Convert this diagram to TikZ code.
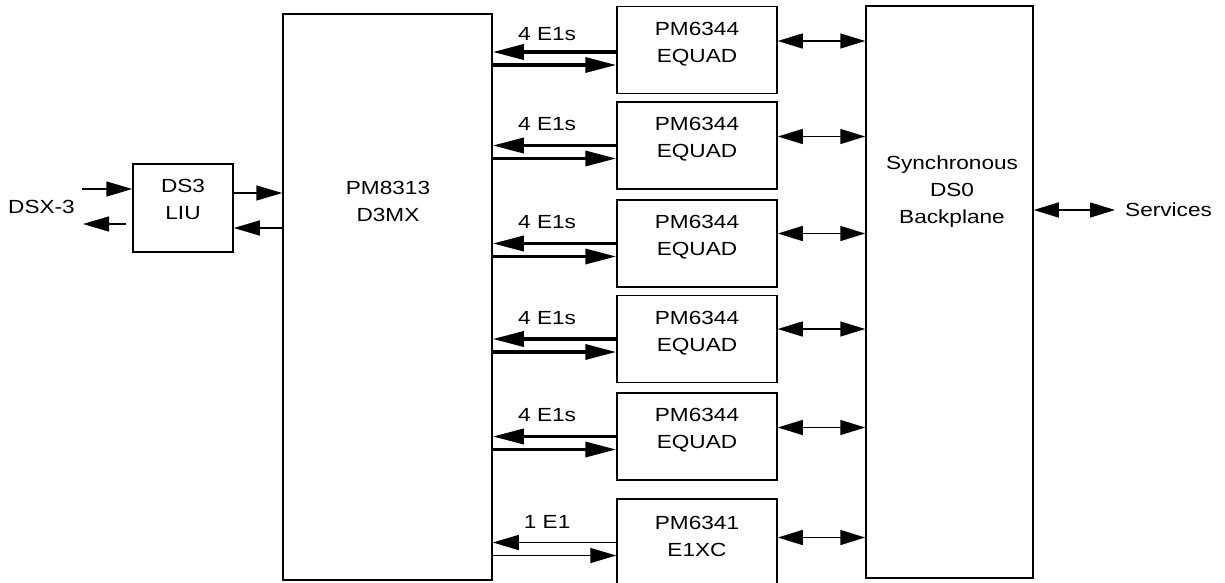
\documentclass[tikz,border=0pt]{standalone}
\usepackage{fontspec}
\setmainfont{Liberation Sans}[FakeStretch=1.19]
\usepackage{tikz}
\usetikzlibrary{arrows.meta,positioning}

\begin{document}
\begin{tikzpicture}[x=1pt, y=-1pt,
  every node/.style={font=\fontsize{19}{27}\selectfont},
  blk/.style={draw, line width=1.5pt, inner sep=0pt},
  txt/.style={align=center, inner sep=0pt},
  eq/.style={blk, minimum width=160pt, minimum height=87pt},
  thin/.style={-{Triangle[length=26pt, width=15pt]}, line width=1.5pt},
  fat/.style={-{Triangle[length=31pt, width=15pt]}, line width=3.5pt},
  both/.style={{Triangle[length=25pt, width=15pt]}-{Triangle[length=25pt, width=15pt]}, line width=1.5pt},
  lbl/.style={inner sep=0pt, pos=0.56, above=13pt}
]
\useasboundingbox (0,0) rectangle (1225,583);

% blocks
\node[blk, minimum width=100pt, minimum height=88pt] (liu) at (183,208) {};
\node[txt] (liut) at (183,199) {DS3\\LIU};
\node[blk, minimum width=209pt, minimum height=566pt] (d3mx) at (387.5,297) {};
\node[txt] (d3mxt) at (388,201) {PM8313\\D3MX};
\node[blk, minimum width=167pt, minimum height=572pt] (bp) at (949.5,292) {};
\node[txt] (bpt) at (952,192) {Synchronous\\DS0\\Backplane};

\node[eq] (eq1) at (697,50) {};
\node[eq] (eq2) at (697,145.5) {};
\node[eq] (eq3) at (697,243.5) {};
\node[eq] (eq4) at (697,339) {};
\node[eq] (eq5) at (697,436.5) {};
\node[eq] (e1xc) at (697,542.5) {};
\node[txt] (eq1t) at (697,44) {PM6344\\EQUAD};
\node[txt] (eq2t) at (697,139.5) {PM6344\\EQUAD};
\node[txt] (eq3t) at (697,237.5) {PM6344\\EQUAD};
\node[txt] (eq4t) at (697,333) {PM6344\\EQUAD};
\node[txt] (eq5t) at (697,430.5) {PM6344\\EQUAD};
\node[txt] (e1xct) at (697,536.5) {PM6341\\E1XC};

\node[txt] (dsx) at (41.5,207) {DSX-3};
\node[txt, anchor=west] (srv) at (1125,210) {Services};

% line side
\coordinate (dsxin) at (82,189);
\coordinate (dsxout) at (126,224);
\draw[thin] (dsxin) -- (dsxin -| liu.west);
\draw[thin] (dsxout) -- ++(-43,0);
\draw[thin] ([yshift=15pt]liu.east) -- ([yshift=15pt]liu.east -| d3mx.west);
\draw[thin] ([yshift=-20pt]liu.east -| d3mx.west) -- ([yshift=-20pt]liu.east);

% tributaries
\coordinate (l1) at ([yshift=-2pt]eq1.west);
\coordinate (r1) at ([yshift=-15pt]eq1.west);
\coordinate (r2) at ([yshift=-13pt]eq2.west);
\coordinate (r3) at ([yshift=-13pt]eq3.west);
\coordinate (r4) at ([yshift=-13pt]eq4.west);
\coordinate (r5) at ([yshift=-13pt]eq5.west);
\coordinate (r6) at ([yshift=-13pt]e1xc.west);
\draw[fat] (l1) -- node[lbl, above=10pt] {4 E1s} (l1 -| d3mx.east);
\draw[fat] (r1 -| d3mx.east) -- (r1);
\draw[fat] (eq2.west) -- node[lbl] {4 E1s} (eq2.west -| d3mx.east);
\draw[fat] (r2 -| d3mx.east) -- (r2);
\draw[fat] (eq3.west) -- node[lbl] {4 E1s} (eq3.west -| d3mx.east);
\draw[fat] (r3 -| d3mx.east) -- (r3);
\draw[fat] (eq4.west) -- node[lbl] {4 E1s} (eq4.west -| d3mx.east);
\draw[fat] (r4 -| d3mx.east) -- (r4);
\draw[fat] (eq5.west) -- node[lbl] {4 E1s} (eq5.west -| d3mx.east);
\draw[fat] (r5 -| d3mx.east) -- (r5);
\draw[thin] (e1xc.west) -- node[lbl] {1 E1} (e1xc.west -| d3mx.east);
\draw[thin] (r6 -| d3mx.east) -- (r6);

% backplane
\draw[both] ([yshift=9pt]eq1.east) -- ([yshift=9pt]eq1.east -| bp.west);
\draw[both] ([yshift=9pt]eq2.east) -- ([yshift=9pt]eq2.east -| bp.west);
\draw[both] ([yshift=10pt]eq3.east) -- ([yshift=10pt]eq3.east -| bp.west);
\draw[both] ([yshift=10pt]eq4.east) -- ([yshift=10pt]eq4.east -| bp.west);
\draw[both] ([yshift=9pt]eq5.east) -- ([yshift=9pt]eq5.east -| bp.west);
\draw[both] ([yshift=5pt]e1xc.east) -- ([yshift=5pt]e1xc.east -| bp.west);
\draw[both] (srv.west -| bp.east) -- ([xshift=-10pt]srv.west);
\end{tikzpicture}
\end{document}
